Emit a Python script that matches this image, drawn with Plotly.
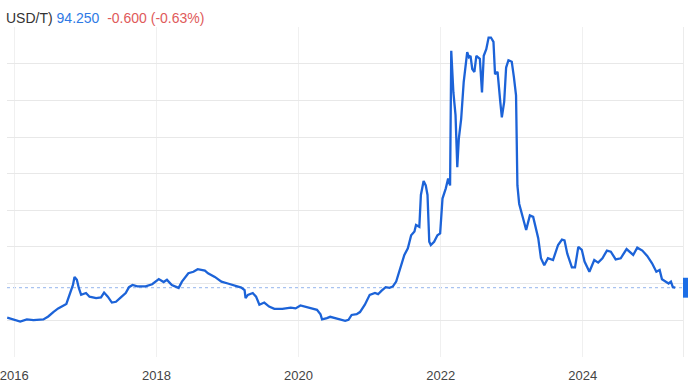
import plotly.graph_objects as go

# ---- data ----
dates = [
    "2015-11-26", "2016-01-15", "2016-02-01", "2016-03-06", "2016-04-09", "2016-05-30",
    "2016-06-24", "2016-07-20", "2016-08-14", "2016-09-25", "2016-10-12", "2016-10-29",
    "2016-11-06", "2016-11-18", "2016-11-28", "2016-12-10", "2017-01-04", "2017-01-22",
    "2017-02-25", "2017-03-22", "2017-04-07", "2017-04-26", "2017-05-17", "2017-06-07",
    "2017-07-02", "2017-07-27", "2017-08-13", "2017-08-31", "2017-09-25", "2017-11-06",
    "2017-12-10", "2018-01-13", "2018-02-07", "2018-02-24", "2018-03-21", "2018-04-25",
    "2018-05-12", "2018-06-14", "2018-07-10", "2018-08-01", "2018-09-07", "2018-09-23",
    "2018-10-28", "2018-12-01", "2019-01-03", "2019-02-06", "2019-03-13", "2019-03-30",
    "2019-04-04", "2019-04-16", "2019-05-11", "2019-05-28", "2019-06-14", "2019-07-09",
    "2019-08-03", "2019-08-30", "2019-10-10", "2019-11-22", "2019-12-17", "2020-01-11",
    "2020-02-23", "2020-04-05", "2020-04-23", "2020-05-01", "2020-05-26", "2020-06-12",
    "2020-07-17", "2020-08-28", "2020-09-14", "2020-09-30", "2020-10-26", "2020-11-12",
    "2020-12-07", "2021-01-01", "2021-01-28", "2021-02-13", "2021-03-02", "2021-03-24",
    "2021-04-13", "2021-04-30", "2021-05-17", "2021-05-25", "2021-06-11", "2021-06-28",
    "2021-07-16", "2021-08-02", "2021-08-19", "2021-08-27", "2021-09-13", "2021-09-21",
    "2021-10-05", "2021-10-16", "2021-10-25", "2021-11-03", "2021-11-11", "2021-11-28",
    "2021-12-15", "2021-12-29", "2022-01-10", "2022-01-27", "2022-02-08", "2022-02-18",
    "2022-02-24", "2022-03-07", "2022-03-18", "2022-03-27", "2022-04-04", "2022-04-16",
    "2022-04-29", "2022-05-17", "2022-05-26", "2022-06-03", "2022-06-12", "2022-06-23",
    "2022-07-03", "2022-07-21", "2022-08-01", "2022-08-10", "2022-08-23", "2022-09-04",
    "2022-09-16", "2022-09-29", "2022-10-07", "2022-10-20", "2022-11-03", "2022-11-11",
    "2022-11-23", "2022-12-03", "2022-12-15", "2023-01-01", "2023-01-12", "2023-01-23",
    "2023-01-30", "2023-02-08", "2023-03-02", "2023-03-16", "2023-04-04", "2023-04-21",
    "2023-05-17", "2023-05-31", "2023-06-17", "2023-07-06", "2023-08-01", "2023-08-27",
    "2023-09-16", "2023-09-29", "2023-10-13", "2023-11-06", "2023-11-22", "2023-12-09",
    "2023-12-27", "2024-01-10", "2024-02-04", "2024-02-29", "2024-03-20", "2024-04-11",
    "2024-05-04", "2024-05-24", "2024-06-18", "2024-07-14", "2024-08-13", "2024-09-16",
    "2024-10-07", "2024-11-02", "2024-11-27", "2024-12-22", "2025-01-13", "2025-01-30",
    "2025-02-11", "2025-02-27", "2025-03-17", "2025-03-29", "2025-04-08", "2025-04-20",
]
prices = [
    53.5, 49.5, 48, 51, 50, 51,
    55, 61, 66, 72, 85, 98,
    109, 105, 94, 84.5, 87, 82,
    80, 81, 87.6, 82, 74, 75,
    81, 87, 95, 98, 96, 96,
    99, 106, 102, 105, 98, 94,
    102.5, 114, 116, 119.5, 117.6, 114,
    109, 102.6, 100, 97, 94.5, 91,
    80, 84.5, 87, 82, 71, 74,
    68.5, 65.4, 65.4, 67, 66, 70,
    67, 64, 58, 51, 52.7, 54.5,
    52, 49, 50.4, 57, 58, 61,
    71, 84.5, 87, 85.4, 90, 95,
    94, 96, 102.6, 110, 125, 139,
    148, 166, 171, 180, 177.5, 221,
    240, 234, 221, 157, 152.6, 157,
    166, 168.5, 216, 230, 243.5, 234,
    418, 361, 330, 259, 298, 325,
    375, 416, 409, 411, 393, 389,
    411, 407, 361, 411, 420, 436,
    436, 430, 386, 389, 348, 327,
    348, 395, 405, 403, 382, 357,
    234, 209, 187, 173, 193, 191,
    162, 134.5, 125, 134.5, 132, 152.6,
    160, 159, 141, 122, 122, 150,
    146, 130, 116, 132, 128.5, 134.5,
    145, 143.5, 133, 134.5, 147, 139,
    149, 145, 137.6, 127.6, 116, 118.5,
    105.8, 102.6, 100, 102.6, 95, 94.25,
]

unit_label = "USD/T)"
last_price = 94.250
change = -0.600
change_pct = -0.63

x_range = ["2015-11-25", "2025-05-30"]
y_range = [-0.4, 450.4]
y_step = 50

line_color = "#1c63d8"
font_family = "Helvetica Neue, Helvetica, Arial, Liberation Sans, sans-serif"

fig = go.Figure()
fig.add_trace(go.Scatter(
    x=dates, y=prices, mode="lines",
    line=dict(color=line_color, width=2.3),
    hoverinfo="skip", showlegend=False,
))

# dotted current-price line and right-edge price marker
fig.add_shape(type="line", xref="paper", x0=0, x1=1, yref="y",
              y0=last_price, y1=last_price,
              line=dict(color="#93b4ec", width=1, dash="dot"), layer="below")
fig.add_shape(type="rect", xref="paper", x0=1.0, x1=1.02, yref="y",
              y0=last_price - 13.6, y1=last_price + 13.6,
              fillcolor="#1c6ee6", line=dict(width=0))

title_text = (
    f"<span style='color:#333333'>{unit_label}</span> "
    f"<span style='color:#2f7ae5'>{last_price:.3f}</span>&nbsp;&nbsp;"
    f"<span style='color:#e05a5a'>{change:.3f} ({change_pct:.2f}%)</span>"
)
fig.add_annotation(
    text=title_text, xref="paper", yref="paper", x=0, y=1,
    xanchor="left", yanchor="middle", xshift=-3, yshift=9,
    showarrow=False, font=dict(family=font_family, size=14),
)

fig.update_layout(
    width=688, height=387,
    margin=dict(l=0, r=5, t=27, b=30),
    paper_bgcolor="white", plot_bgcolor="white",
    font=dict(family=font_family, size=13, color="#444444"),
    xaxis=dict(
        type="date", range=x_range, tick0="2016-01-01", dtick="M24",
        tickformat="%Y", showgrid=True, gridcolor="#f0f0f0", gridwidth=1,
        ticks="outside", ticklen=6, tickcolor="rgba(0,0,0,0)",
        tickfont=dict(size=13, color="#444444"),
        ticklabeloverflow="allow",
        zeroline=False, showline=False, fixedrange=True,
    ),
    yaxis=dict(
        range=y_range, dtick=y_step, tick0=0, showgrid=True,
        gridcolor="#e8e8e8", gridwidth=1, showticklabels=False,
        zeroline=False, side="right", showline=True,
        linecolor="#ececec", linewidth=1, fixedrange=True,
    ),
)

fig.write_html(
    "out.html",
    config={"displayModeBar": False},
    post_script="document.body.style.margin='0';document.body.style.overflow='hidden';",
)
